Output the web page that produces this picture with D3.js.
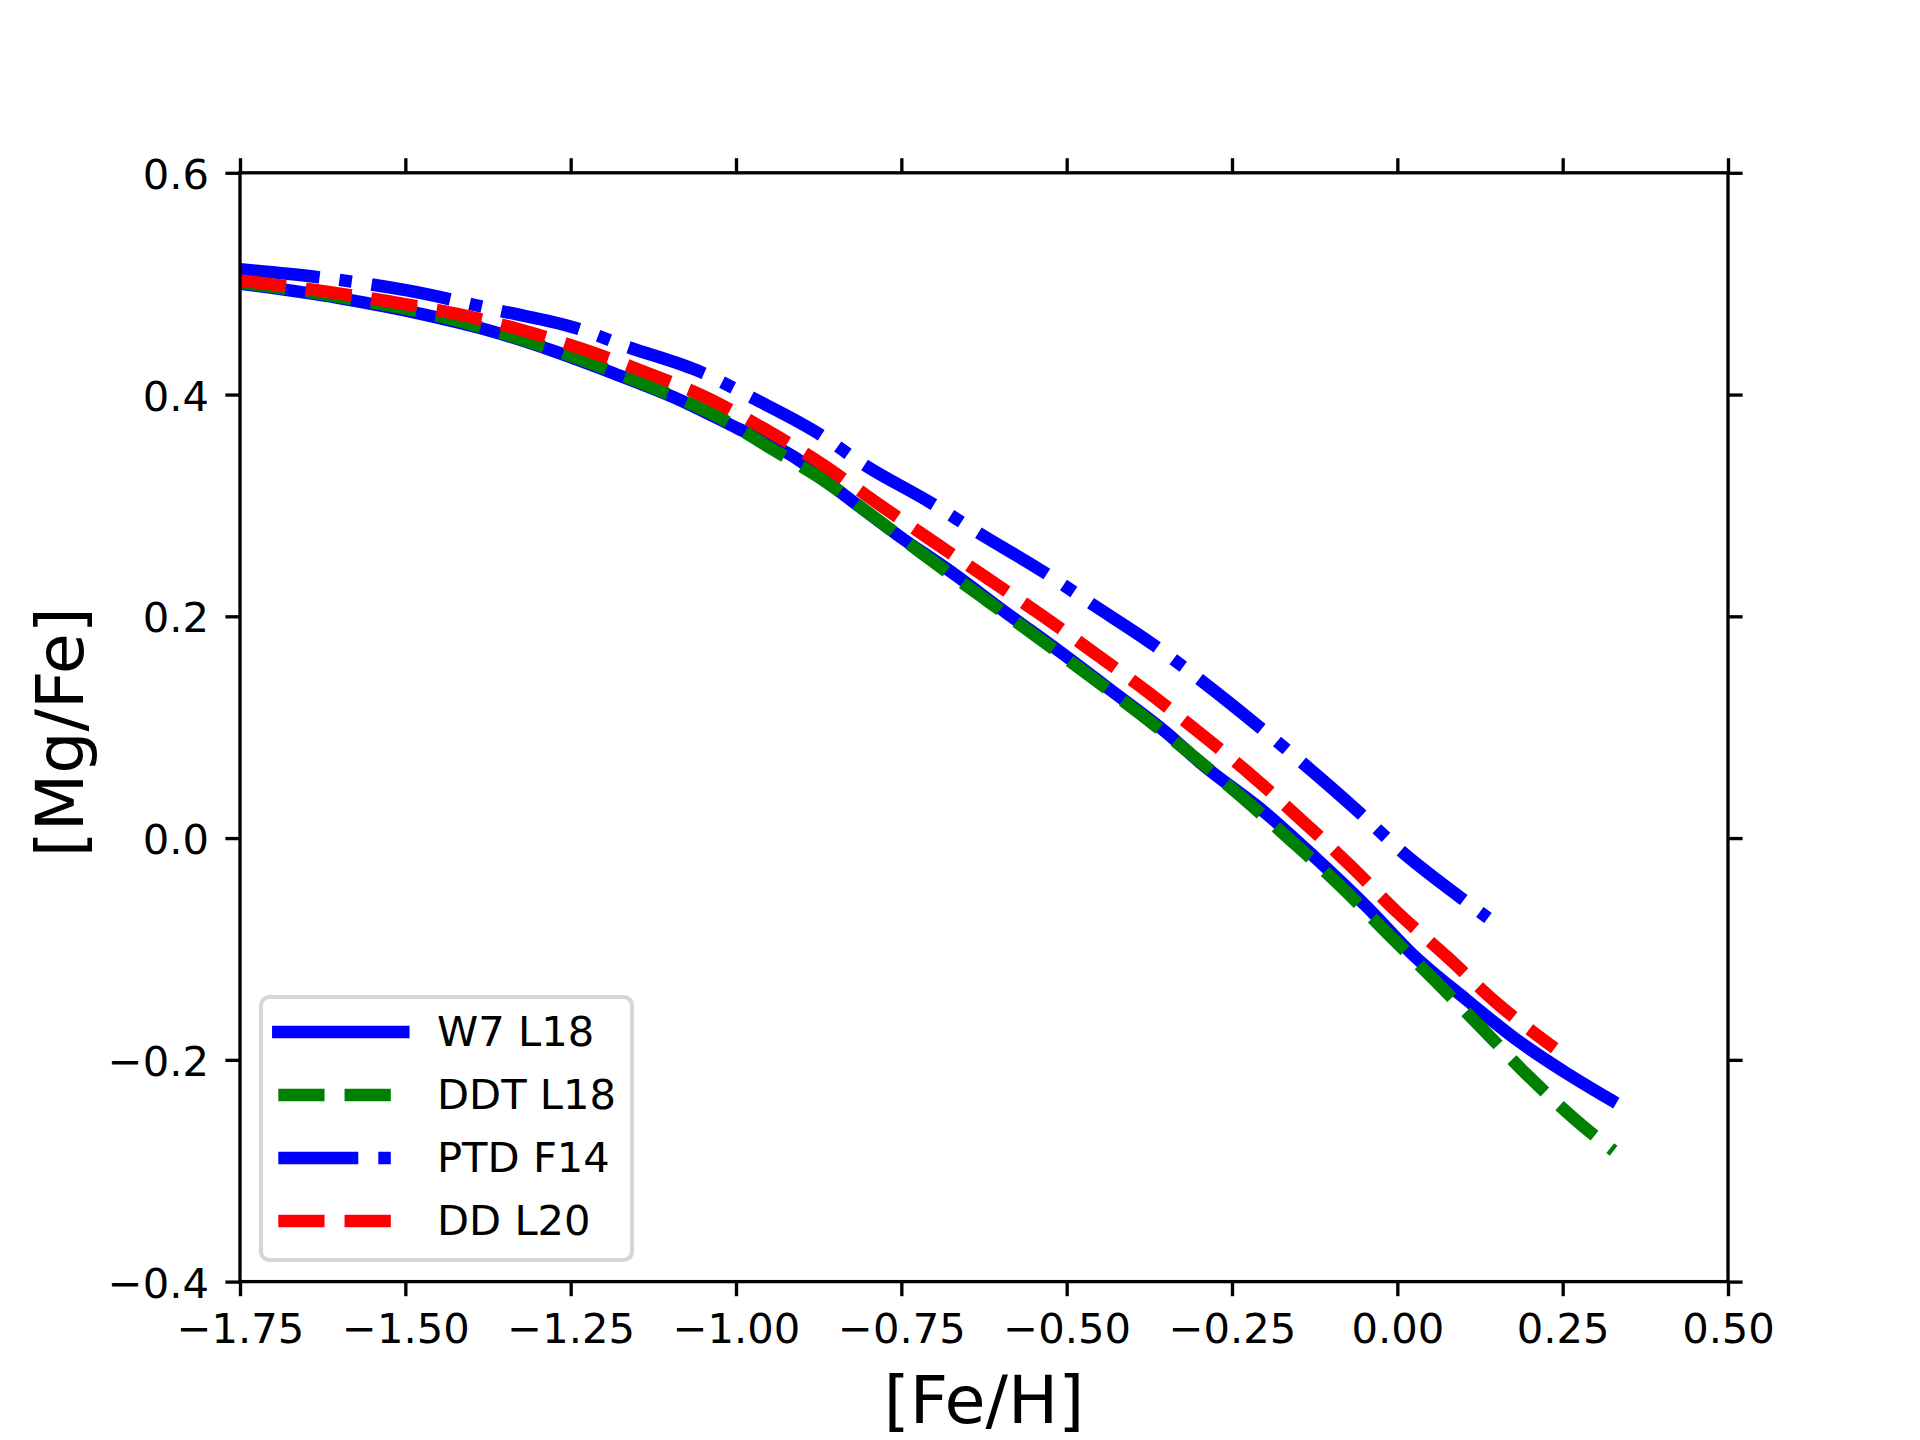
<!DOCTYPE html>
<html>
<head>
<meta charset="utf-8">
<script src="https://cdn.jsdelivr.net/npm/d3@7"></script>
<style>
  html, body { margin: 0; padding: 0; background: #ffffff; }
  svg { display: block; }
  text { font-family: "DejaVu Sans", sans-serif; fill: #000; }
</style>
</head>
<body>
<svg id="chart" width="1920" height="1440"></svg>
<script>
// ---------------- data ----------------
const xTicks = [-1.75, -1.5, -1.25, -1.0, -0.75, -0.5, -0.25, 0.0, 0.25, 0.5];
const yTicks = [-0.4, -0.2, 0.0, 0.2, 0.4, 0.6];
const xLabel = "[Fe/H]";
const yLabel = "[Mg/Fe]";

const seriesNames = ["W7 L18", "DDT L18", "PTD F14", "DD L20"];

// [Fe/H], [Mg/Fe]
const w7L18 = [
  [-1.75, 0.500], [-1.6, 0.487], [-1.468, 0.4717], [-1.372, 0.4576], [-1.277, 0.4395],
  [-1.186, 0.4194], [-1.095, 0.3978], [-0.999, 0.370], [-0.912, 0.3437], [-0.833, 0.3079],
  [-0.752, 0.2718], [-0.672, 0.239], [-0.591, 0.203], [-0.51, 0.168], [-0.43, 0.132],
  [-0.349, 0.095], [-0.298, 0.068], [-0.198, 0.022], [-0.127, -0.016], [-0.046, -0.062],
  [0.024, -0.1054], [0.105, -0.146], [0.181, -0.1821], [0.256, -0.2121], [0.323, -0.2362]
];
const ddtL18 = [
  [-1.75, 0.501], [-1.6, 0.488], [-1.45, 0.471], [-1.3, 0.445], [-1.15, 0.412],
  [-1.0, 0.371], [-0.958, 0.3554], [-0.872, 0.3245], [-0.791, 0.2893], [-0.711, 0.2532],
  [-0.63, 0.2183], [-0.549, 0.1832], [-0.469, 0.148], [-0.388, 0.1116], [-0.31, 0.0747],
  [-0.233, 0.0359], [-0.157, -0.0042], [-0.084, -0.0444], [-0.014, -0.0865], [0.057, -0.1286],
  [0.128, -0.1716], [0.198, -0.2146], [0.271, -0.2549], [0.327, -0.282]
];
const ptdF14 = [
  [-1.75, 0.513], [-1.634, 0.506], [-1.495, 0.4937], [-1.357, 0.4756], [-1.241, 0.4598],
  [-1.165, 0.4432], [-1.052, 0.420], [-0.974, 0.3966], [-0.873, 0.364], [-0.807, 0.337],
  [-0.704, 0.3019], [-0.636, 0.2763], [-0.533, 0.2393], [-0.465, 0.2123], [-0.366, 0.1732],
  [-0.301, 0.1441], [-0.208, 0.0999], [-0.056, 0.0223], [0.004, -0.0108], [0.097, -0.0543],
  [0.137, -0.072]
];
const ddL20 = [
  [-1.75, 0.503], [-1.619, 0.4928], [-1.521, 0.4837], [-1.422, 0.4727], [-1.324, 0.4582],
  [-1.228, 0.4402], [-1.135, 0.4197], [-1.042, 0.3966], [-0.954, 0.368], [-0.868, 0.3365],
  [-0.786, 0.3019], [-0.703, 0.2679], [-0.62, 0.2343], [-0.537, 0.2006], [-0.456, 0.166],
  [-0.375, 0.1306], [-0.297, 0.0939], [-0.22, 0.0563], [-0.145, 0.0163], [-0.072, -0.0243],
  [0.0015, -0.0678], [0.075, -0.107], [0.148, -0.1476], [0.238, -0.1896]
];

const seriesData = [w7L18, ddtL18, ptdF14, ddL20];
const seriesColors = ["#0000ff", "#008000", "#0000ff", "#ff0000"];

// ---------------- layout ----------------
const W = 1920, H = 1440;
const axL = 240, axR = 1728, axT = 172.8, axB = 1281.6;
const lw = 12.5;             // 3pt at 300 dpi
const spineW = 3.33;         // 0.8pt
const tickLen = 14.6;
const fontTick = 41.67;
const fontLabel = 66.7;
const dashStyles = [null, "46.25,20", "80,20,12.5,20", "46.25,20"];
const caps = ["square", "butt", "butt", "butt"];

const svg = d3.select("#chart");
svg.append("rect").attr("width", W).attr("height", H).attr("fill", "#fff");

const x = d3.scaleLinear().domain([-1.75, 0.5]).range([axL, axR]);
const y = d3.scaleLinear().domain([-0.4, 0.6]).range([axB, axT]);

// clip to axes
svg.append("defs").append("clipPath").attr("id", "clip")
  .append("rect").attr("x", axL).attr("y", axT)
  .attr("width", axR - axL).attr("height", axB - axT);

const line = d3.line().x(d => x(d[0])).y(d => y(d[1])).curve(d3.curveMonotoneX);

const plot = svg.append("g").attr("clip-path", "url(#clip)");
seriesData.forEach((data, i) => {
  plot.append("path")
    .datum(data)
    .attr("d", line)
    .attr("fill", "none")
    .attr("stroke", seriesColors[i])
    .attr("stroke-width", lw)
    .attr("stroke-linecap", caps[i])
    .attr("stroke-linejoin", "round")
    .attr("stroke-dasharray", dashStyles[i]);
});

// ---------------- axes ----------------
const fmtX = d3.format(".2f");
const fmtY = d3.format(".1f");

function styleAxis(g) {
  g.select(".domain").remove();
  g.selectAll(".tick line").attr("stroke", "#000").attr("stroke-width", spineW);
  g.selectAll(".tick text").attr("font-size", fontTick)
    .attr("font-family", "DejaVu Sans").attr("fill", "#000");
}

const gB = svg.append("g").attr("transform", `translate(0,${axB})`)
  .call(d3.axisBottom(x).tickValues(xTicks).tickFormat(fmtX).tickSize(tickLen).tickSizeOuter(0));
styleAxis(gB);
gB.selectAll(".tick text").attr("dy", null).attr("y", 61.7);

const gT = svg.append("g").attr("transform", `translate(0,${axT})`)
  .call(d3.axisTop(x).tickValues(xTicks).tickFormat("").tickSize(tickLen).tickSizeOuter(0));
styleAxis(gT);

const gL = svg.append("g").attr("transform", `translate(${axL},0)`)
  .call(d3.axisLeft(y).tickValues(yTicks).tickFormat(fmtY).tickSize(tickLen).tickSizeOuter(0));
styleAxis(gL);
gL.selectAll(".tick text").attr("dy", null).attr("x", -31).attr("y", 15.5);

const gR = svg.append("g").attr("transform", `translate(${axR},0)`)
  .call(d3.axisRight(y).tickValues(yTicks).tickFormat("").tickSize(tickLen).tickSizeOuter(0));
styleAxis(gR);

// spines
svg.append("rect")
  .attr("x", axL).attr("y", axT)
  .attr("width", axR - axL).attr("height", axB - axT)
  .attr("fill", "none").attr("stroke", "#000").attr("stroke-width", spineW);

// axis labels
svg.append("text")
  .attr("x", (axL + axR) / 2).attr("y", 1422.7)
  .attr("text-anchor", "middle").attr("font-size", fontLabel)
  .text(xLabel);

svg.append("text")
  .attr("transform", `translate(83.3,${(axT + axB) / 2 + 5}) rotate(-90)`)
  .attr("text-anchor", "middle").attr("font-size", fontLabel)
  .text(yLabel);

// ---------------- legend ----------------
const lg = svg.append("g");
lg.append("rect")
  .attr("x", 261).attr("y", 997).attr("width", 371).attr("height", 263)
  .attr("rx", 8.3).attr("ry", 8.3)
  .attr("fill", "#fff").attr("fill-opacity", 0.8)
  .attr("stroke", "#cccccc").attr("stroke-opacity", 0.8).attr("stroke-width", 4.17);

const rowY = [1032, 1095, 1158, 1221];
seriesNames.forEach((name, i) => {
  lg.append("line")
    .attr("x1", 278.3).attr("x2", 403.3)
    .attr("y1", rowY[i]).attr("y2", rowY[i])
    .attr("stroke", seriesColors[i])
    .attr("stroke-width", lw)
    .attr("stroke-linecap", caps[i])
    .attr("stroke-dasharray", dashStyles[i]);
  lg.append("text")
    .attr("x", 437).attr("y", rowY[i] + 13.5)
    .attr("font-size", fontTick)
    .text(name);
});
</script>
</body>
</html>
